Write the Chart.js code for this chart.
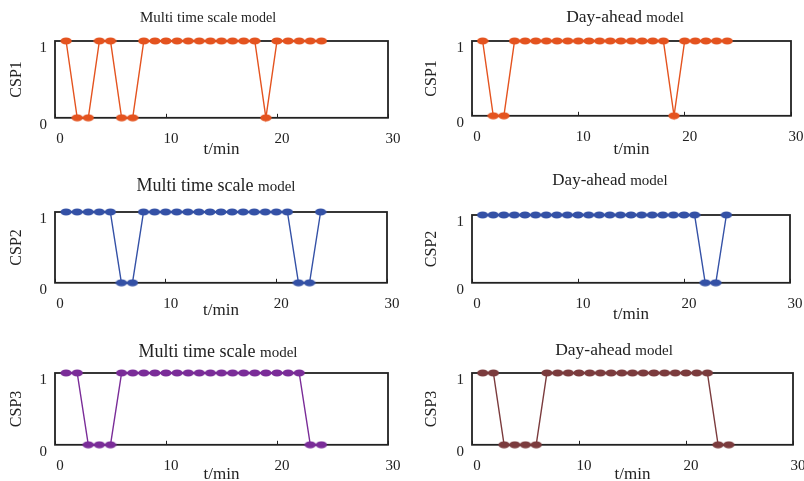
<!DOCTYPE html>
<html>
<head>
<meta charset="utf-8">
<script src="https://cdn.jsdelivr.net/npm/chart.js@4/dist/chart.umd.min.js"></script>
<style>
  html, body { margin: 0; padding: 0; width: 804px; height: 481px; overflow: hidden; background: #fff; }
  .panel { position: absolute; }
  .panel canvas { display: block; }
  .ttl { position: absolute; transform: translate(-50%, -50%); white-space: nowrap;
         font-family: "Liberation Serif", "Times New Roman", serif; color: #222; line-height: 1; }
</style>
</head>
<body>
<script>
// Time steps (min) and on/off states of the three CSP units
const timeSteps    = [1, 2, 3, 4, 5, 6, 7, 8, 9, 10, 11, 12, 13, 14, 15, 16, 17, 18, 19, 20, 21, 22, 23, 24];
const csp1Multi    = [1, 0, 0, 1, 1, 0, 0, 1, 1, 1, 1, 1, 1, 1, 1, 1, 1, 1, 0, 1, 1, 1, 1, 1];
const csp1DayAhead = [1, 0, 0, 1, 1, 1, 1, 1, 1, 1, 1, 1, 1, 1, 1, 1, 1, 1, 0, 1, 1, 1, 1, 1];
const csp2Multi    = [1, 1, 1, 1, 1, 0, 0, 1, 1, 1, 1, 1, 1, 1, 1, 1, 1, 1, 1, 1, 1, 0, 0, 1];
const csp2DayAhead = [1, 1, 1, 1, 1, 1, 1, 1, 1, 1, 1, 1, 1, 1, 1, 1, 1, 1, 1, 1, 1, 0, 0, 1];
const csp3Multi    = [1, 1, 0, 0, 0, 1, 1, 1, 1, 1, 1, 1, 1, 1, 1, 1, 1, 1, 1, 1, 1, 1, 0, 0];
const csp3DayAhead = [1, 1, 0, 0, 0, 0, 1, 1, 1, 1, 1, 1, 1, 1, 1, 1, 1, 1, 1, 1, 1, 1, 0, 0];

// Axis texts
const xTicks = [0, 10, 20, 30];
const yTicks = [0, 1];
const xTitle = 't/min';
const unitNames = ['CSP1', 'CSP2', 'CSP3'];
const modelNames = ['Multi time scale', 'Day-ahead'];
const modelSuffix = 'model';

const SERIF = '"Liberation Serif", "Times New Roman", serif';
const INK = '#222';

// Panel layout: plot box, axis-title gap and title typography
const panels = [
  { data: csp1Multi,    unit: 0, model: 0, color: '#E4531F', L: 55,  T: 41,  R: 388, B: 118, gap: 32, tx: 208, ty: 17,  big: 15,   small: 14 },
  { data: csp1DayAhead, unit: 0, model: 1, color: '#E4531F', L: 472, T: 41,  R: 791, B: 116, gap: 34, tx: 625, ty: 17,  big: 17.5, small: 15 },
  { data: csp2Multi,    unit: 1, model: 0, color: '#3451A6', L: 55,  T: 212, R: 387, B: 283, gap: 28, tx: 216, ty: 185, big: 18,   small: 15 },
  { data: csp2DayAhead, unit: 1, model: 1, color: '#3451A6', L: 472, T: 215, R: 790, B: 283, gap: 32, tx: 610, ty: 179, big: 17,   small: 15 },
  { data: csp3Multi,    unit: 2, model: 0, color: '#7A2C98', L: 55,  T: 373, R: 388, B: 445, gap: 30, tx: 218, ty: 351, big: 18,   small: 15 },
  { data: csp3DayAhead, unit: 2, model: 1, color: '#7B3B3D', L: 472, T: 373, R: 793, B: 445, gap: 30, tx: 614, ty: 350, big: 17.5, small: 15 }
];

// Flat oval marker
function ovalMarker(color) {
  const c = document.createElement('canvas');
  c.width = 12; c.height = 8;
  const g = c.getContext('2d');
  g.fillStyle = color;
  g.beginPath();
  g.ellipse(6, 4, 5.7, 3.5, 0, 0, Math.PI * 2);
  g.fill();
  return c;
}

// Closed box around the plot area, drawn beneath the series
const boxFrame = {
  id: 'boxFrame',
  beforeDatasetsDraw(chart) {
    const { ctx, chartArea: a } = chart;
    ctx.save();
    ctx.strokeStyle = INK;
    ctx.lineWidth = 1.8;
    ctx.strokeRect(a.left, a.top, a.right - a.left, a.bottom - a.top);
    ctx.restore();
  }
};

function addPanel(p) {
  const padL = 55, padT = 20, padR = 30;
  const xH = p.gap + 10.2;
  const w = Math.round(p.R - p.L + padL + padR);
  const h = Math.round(p.B - p.T + padT + xH);

  const wrap = document.createElement('div');
  wrap.className = 'panel';
  wrap.style.left = (p.L - padL) + 'px';
  wrap.style.top = (p.T - padT) + 'px';
  const cv = document.createElement('canvas');
  cv.width = w; cv.height = h;
  cv.style.width = w + 'px'; cv.style.height = h + 'px';
  wrap.appendChild(cv);
  document.body.appendChild(wrap);

  const points = timeSteps.map((t, i) => ({ x: t, y: p.data[i] }));
  const tickFont = { family: SERIF, size: 15 };
  const yTitlePad = p.L > 300 ? 5 : 7.4;

  new Chart(cv, {
    type: 'line',
    data: {
      datasets: [{
        data: points,
        borderColor: p.color,
        borderWidth: 1.4,
        pointStyle: ovalMarker(p.color),
        pointRadius: 4,
        pointHoverRadius: 4,
        tension: 0,
        clip: false
      }]
    },
    options: {
      responsive: false,
      animation: false,
      events: [],
      layout: { padding: { left: 0, top: padT, right: padR, bottom: 0 } },
      plugins: { legend: { display: false }, tooltip: { enabled: false } },
      scales: {
        x: {
          type: 'linear',
          min: xTicks[0],
          max: xTicks[xTicks.length - 1],
          afterFit(s) { s.height = xH; },
          afterBuildTicks(s) { s.ticks = xTicks.map(v => ({ value: v })); },
          ticks: { font: tickFont, color: INK, labelOffset: 5, padding: 16, maxRotation: 0, autoSkip: false },
          grid: { drawOnChartArea: false, drawTicks: true, tickLength: -4, color: INK, lineWidth: 1 },
          border: { display: false },
          title: { display: true, text: xTitle, color: INK, font: { family: SERIF, size: 17 }, padding: { top: 0, bottom: 0 } }
        },
        y: {
          min: yTicks[0],
          max: yTicks[yTicks.length - 1],
          afterFit(s) { s.width = padL; },
          afterBuildTicks(s) { s.ticks = yTicks.map(v => ({ value: v })); },
          ticks: { font: tickFont, color: INK, labelOffset: 7.5, padding: 8 },
          grid: { display: false, drawTicks: false },
          border: { display: false },
          title: { display: true, text: unitNames[p.unit], color: INK, font: { family: SERIF, size: 16 }, padding: { top: yTitlePad, bottom: 0 } }
        }
      }
    },
    plugins: [boxFrame]
  });

  const ttl = document.createElement('div');
  ttl.className = 'ttl';
  ttl.style.left = p.tx + 'px';
  ttl.style.top = p.ty + 'px';
  const main = document.createElement('span');
  main.style.fontSize = p.big + 'px';
  main.textContent = modelNames[p.model] + ' ';
  const tail = document.createElement('span');
  tail.style.fontSize = p.small + 'px';
  tail.textContent = modelSuffix;
  ttl.appendChild(main);
  ttl.appendChild(tail);
  document.body.appendChild(ttl);
}

panels.forEach(addPanel);
</script>
</body>
</html>
